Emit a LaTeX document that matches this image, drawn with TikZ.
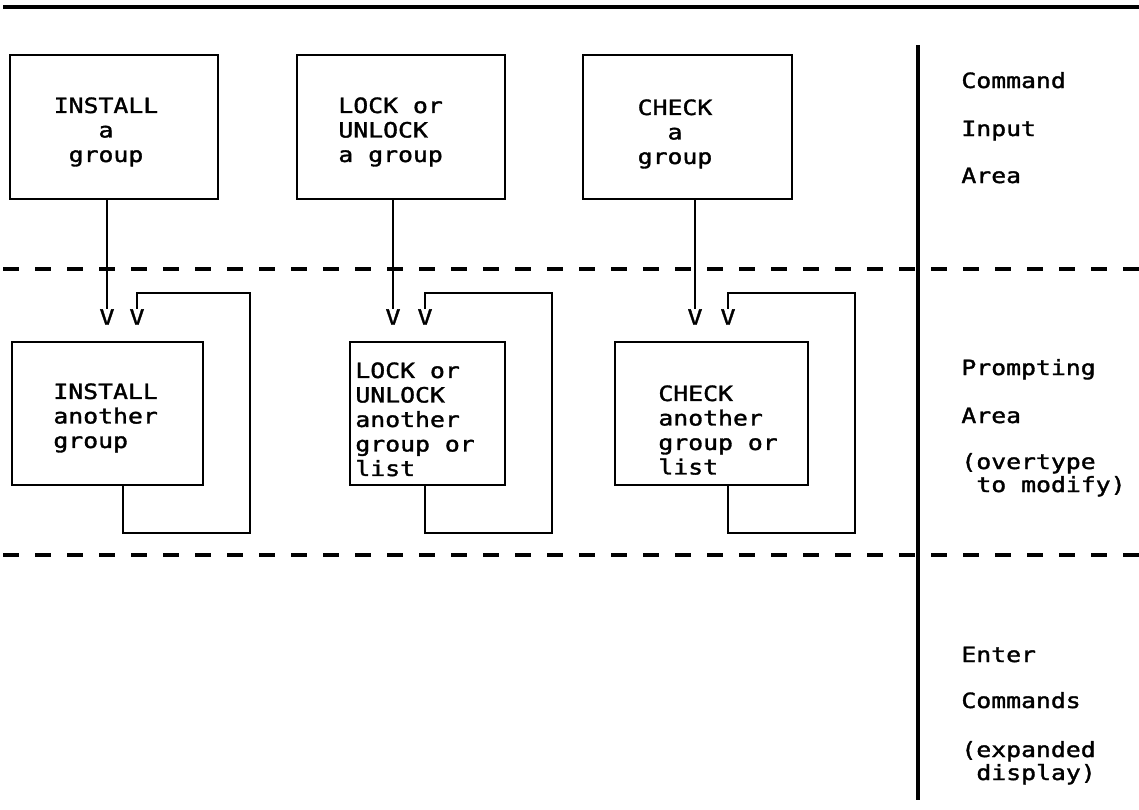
\documentclass[tikz,border=0pt]{standalone}
\usepackage{fontspec}
\newfontfamily\ibmmono[FakeStretch=1.18,FakeBold=1.6]{DejaVu Sans Mono}
\usetikzlibrary{fit}
\tikzset{
  box/.style={draw, line width=1.2pt, inner sep=0pt},
  txt/.style={font={\ibmmono\fontsize{10.5}{12.25}\selectfont}, inner sep=0pt},
  lbl/.style={txt, anchor=base west},
  vtip/.style={txt, anchor=north},
  conn/.style={line width=1.2pt},
  rule/.style={line width=1.6pt},
  dashrule/.style={line width=1.8pt, dash pattern=on 8pt off 8pt},
}
\begin{document}
\begin{tikzpicture}[x=0.5pt,y=-0.5pt]
\useasboundingbox (0,0) rectangle (1139,809);

% frame lines
\coordinate (topL) at (3,7);
\coordinate (topR) at (1139,7);
\coordinate (d1L) at (3,269);
\coordinate (d1R) at (1139,269);
\coordinate (d2L) at (3,555);
\coordinate (d2R) at (1139,555);
\coordinate (sepT) at (918,45);
\coordinate (sepB) at (918,800);
\draw[rule] (topL) -- (topR);
\draw[dashrule] (d1L) -- (d1R);
\draw[dashrule] (d2L) -- (d2R);
\draw[rule] (sepT) -- (sepB);

% command boxes
\node[box, fit={(10,55)(218,199)}] (t1) {};
\node[box, fit={(297,55)(505,199)}] (t2) {};
\node[box, fit={(583,55)(792,199)}] (t3) {};
\node[txt, anchor=north, align=center] (t1x) at (106,97) {INSTALL\\a\\group};
\node[txt, anchor=north west, align=left] (t2x) at (338,97) {LOCK or\\UNLOCK\\a group};
\node[txt, anchor=north, align=center] (t3x) at (675,99) {CHECK\\a\\group};

% prompting boxes
\node[box, fit={(12,342)(203,485)}] (l1) {};
\node[box, fit={(350,342)(505,485)}] (l2) {};
\node[box, fit={(615,342)(808,485)}] (l3) {};
\node[txt, anchor=north west, align=left] (l1x) at (53,383) {INSTALL\\another\\group};
\node[txt, anchor=north west, align=left] (l2x) at (355,362) {LOCK or\\UNLOCK\\another\\group or\\list};
\node[txt, anchor=north west, align=left] (l3x) at (658,385) {CHECK\\another\\group or\\list};

% V arrow tips
\node[vtip] (v1a) at (107,309) {V};
\node[vtip] (v1b) at (137,309) {V};
\node[vtip] (v2a) at (393,309) {V};
\node[vtip] (v2b) at (425,309) {V};
\node[vtip] (v3a) at (695,309) {V};
\node[vtip] (v3b) at (728,309) {V};

% loop corners
\coordinate (k1) at (123,533);
\coordinate (r1) at (250,293);
\coordinate (k2) at (425,533);
\coordinate (r2) at (552,293);
\coordinate (k3) at (728,533);
\coordinate (r3) at (855,293);

% connectors
\draw[conn] (t1.south -| v1a) -- (v1a.north);
\draw[conn] (t2.south -| v2a) -- (v2a.north);
\draw[conn] (t3.south -| v3a) -- (v3a.north);
\draw[conn] (l1.south -| k1) -- (k1) -| (r1) -| (v1b.north);
\draw[conn] (l2.south -| k2) -- (k2) -| (r2) -| (v2b.north);
\draw[conn] (l3.south -| k3) -- (k3) -| (r3) -| (v3b.north);

% area labels
\node[lbl] (a1) at (961,88) {Command};
\node[lbl] (a2) at (961,136) {Input};
\node[lbl] (a3) at (961,183) {Area};
\node[lbl] (b1) at (961,375) {Prompting};
\node[lbl] (b2) at (961,423) {Area};
\node[lbl] (b3) at (961,469) {(overtype};
\node[lbl] (b4) at (976,492) {to modify)};
\node[lbl] (c1) at (961,662) {Enter};
\node[lbl] (c2) at (961,708) {Commands};
\node[lbl] (c3) at (961,757) {(expanded};
\node[lbl] (c4) at (976,780) {display)};
\end{tikzpicture}
\end{document}
